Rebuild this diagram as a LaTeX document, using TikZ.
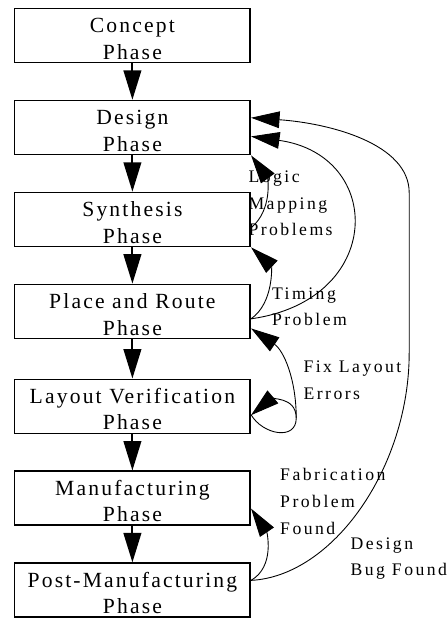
\documentclass[tikz,border=0pt]{standalone}
\usepackage{fontspec}
\setmainfont{Liberation Serif}[LetterSpace=10]
\newfontfamily\notefont{Liberation Serif}[LetterSpace=14]
\usetikzlibrary{arrows.meta, positioning}

\begin{document}
\begin{tikzpicture}[
    % styles for the phases, the notes and the arrows
    phase/.style={rectangle, draw, line width=0.8pt, minimum width=120pt, minimum height=27.5pt, inner sep=0pt, align=center, text height=24pt, text depth=0pt, font=\fontsize{11}{13.5}\selectfont},
    note/.style={align=left, inner sep=0pt, anchor=base west, font=\notefont\fontsize{9}{13.6}\selectfont},
    arrow/.style={-{Triangle[length=15pt, width=9pt]}, line width=1pt},
    back/.style={-{Triangle[length=14.5pt, width=8.5pt]}, line width=0.45pt},
    node distance=18.5pt
]

% phases
\node (concept) [phase] {Concept\\Phase};
\node (design) [phase, below=of concept] {Design\\Phase};
\node (synth) [phase, below=of design] {Synthesis\\Phase};
\node (pr) [phase, below=of synth] {Place and Route\\Phase};
\node (lv) [phase, below=20pt of pr] {Layout Verification\\Phase};
\node (man) [phase, below=of lv] {Manufacturing\\Phase};
\node (post) [phase, below=of man] {Post-Manufacturing\\Phase};

\useasboundingbox ([xshift=-7pt, yshift=4pt]concept.north west) rectangle ++(227.5pt,-309pt);

% forward arrows
\draw [arrow] (concept) -- (design);
\draw [arrow] (design) -- (synth);
\draw [arrow] (synth) -- (pr);
\draw [arrow] (pr) -- (lv);
\draw [arrow] (lv) -- (man);
\draw [arrow] (man) -- (post);

% notes (placed at the baseline of their last line)
\node [note] (logic) at ([xshift=-1.5pt, yshift=-22.5pt]synth.north east) {\fontsize{9}{11}\selectfont Logic\\Mapping\\Problems};
\node [note] (timing) at ([xshift=10.5pt, yshift=-21.5pt]pr.north east) {\fontsize{9}{10}\selectfont Timing\\Problem};
\node [note] (fixlay) at ([xshift=26.5pt, yshift=-10.5pt]lv.north east) {\fontsize{9}{12.25}\selectfont Fix Layout\\Errors};
\node [note] (fab) at ([xshift=14.65pt, yshift=-32.5pt]man.north east) {Fabrication\\Problem\\Found};
\node [note] (bug) at ([xshift=50.5pt, yshift=-25.35pt]man.south east) {Design\\Bug Found};

% turning points
\coordinate (fix) at ([xshift=23pt, yshift=-6pt]lv.east);
\coordinate (bugbot) at ([xshift=80.5pt, yshift=-7pt]pr.south east);
\coordinate (bugtop) at ([xshift=80.5pt, yshift=-0.5pt]synth.north east);

% feedback arrows
\draw [back] ([yshift=-4.25pt]synth.east) to[out=40, in=-54] (design.south east);
\draw [back] ([yshift=-3.75pt]pr.east) to[out=35, in=-43] (synth.south east);
\draw [back] ([yshift=-3.75pt]pr.east) to[out=8, in=-8, looseness=1.9] ([yshift=-4.5pt]design.east);
\draw [back] ([yshift=-4.25pt]lv.east) to[out=-60, in=-90, looseness=1.3] (fix) to[out=90, in=40, looseness=1.3] ([yshift=-4.5pt]lv.east);
\draw [back] (fix) to[out=90, in=-34] ([yshift=5.5pt]pr.south east);
\draw [back] ([yshift=5pt]post.east) to[out=30, in=-56] ([yshift=-5.25pt]man.east);
\draw [back] ([yshift=5pt]post.east) to[out=3, in=-90, out distance=42pt, in distance=58pt] (bugbot) -- (bugtop) to[out=90, in=-4, out distance=25pt, in distance=40pt] ([yshift=5pt]design.east);

\end{tikzpicture}
\end{document}
